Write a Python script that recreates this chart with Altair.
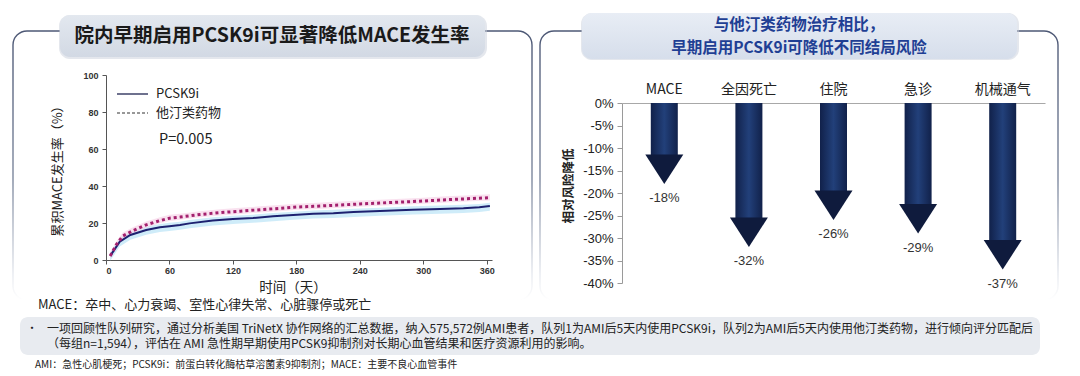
import altair as alt
import pandas as pd

CJK = "Noto Sans CJK SC"
LAT = "Liberation Sans"

# ---------------- data: left panel (cumulative MACE incidence) ----------------
days_pcsk9 = [4, 13, 23, 38, 51, 60, 70, 79, 101, 120, 139, 158, 177, 196, 215, 234, 259, 290, 316, 338, 353, 363]
rate_pcsk9 = [2.2, 9.9, 13.5, 16.2, 17.7, 18.3, 18.9, 19.8, 21.3, 22.1, 22.7, 23.6, 24.3, 25.0, 25.3, 25.9, 26.5, 27.2, 27.6, 28.0, 28.5, 29.2]
days_statin = [4, 10, 16, 26, 38, 51, 60, 70, 89, 108, 127, 146, 164, 180, 196, 227, 240, 259, 290, 300, 322, 345, 363]
rate_statin = [2.2, 8.5, 13.0, 16.0, 19.0, 21.3, 22.6, 23.2, 24.6, 25.6, 26.4, 27.2, 27.9, 28.6, 29.0, 29.9, 30.3, 30.8, 31.6, 31.9, 32.6, 33.2, 33.7]
series_names = ["PCSK9i", "他汀类药物"]
x_ticks_left = [0, 60, 120, 180, 240, 300, 360]
y_ticks_left = [0, 20, 40, 60, 80, 100]

# ---------------- data: right panel (relative risk reduction) ----------------
outcomes = ["MACE", "全因死亡", "住院", "急诊", "机械通气"]
reduction = [-18, -32, -26, -29, -37]
y_ticks_right = [0, -5, -10, -15, -20, -25, -30, -35, -40]

# ---------------- texts ----------------
title_left = "院内早期启用PCSK9i可显著降低MACE发生率"
title_right_1 = "与他汀类药物治疗相比，"
title_right_2 = "早期启用PCSK9i可降低不同结局风险"
x_title_left = "时间（天）"
y_title_left = "累积MACE发生率（%）"
y_title_right = "相对风险降低"
p_text = "P=0.005"
note_mace = "MACE：卒中、心力衰竭、室性心律失常、心脏骤停或死亡"
note_line1 = "一项回顾性队列研究，通过分析美国 TriNetX 协作网络的汇总数据，纳入575,572例AMI患者，队列1为AMI后5天内使用PCSK9i，队列2为AMI后5天内使用他汀类药物，进行倾向评分匹配后"
note_line2 = "（每组n=1,594），评估在 AMI 急性期早期使用PCSK9抑制剂对长期心血管结果和医疗资源利用的影响。"
note_abbr = "AMI：急性心肌梗死；PCSK9i：前蛋白转化酶枯草溶菌素9抑制剂；MACE：主要不良心血管事件"

df_p = pd.DataFrame({"day": days_pcsk9, "rate": rate_pcsk9})
df_s = pd.DataFrame({"day": days_statin, "rate": rate_statin})
df_r = pd.DataFrame({"outcome": outcomes, "value": reduction})
one = pd.DataFrame({"k": [0]})


def vgrad(stops):
    return alt.Gradient(gradient="linear", x1=0, y1=0, x2=0, y2=1,
                        stops=[alt.GradientStop(offset=o, color=c) for o, c in stops])


def hgrad(stops):
    return alt.Gradient(gradient="linear", x1=0, y1=0, x2=1, y2=0,
                        stops=[alt.GradientStop(offset=o, color=c) for o, c in stops])


def box(x, x2, y, y2, **kw):
    return alt.Chart(one).mark_rect(**kw).encode(
        x=alt.value(x), x2=alt.value(x2), y=alt.value(y), y2=alt.value(y2))


def label(text, x, y, **kw):
    return alt.Chart(pd.DataFrame({"t": [text]})).mark_text(**kw).encode(
        x=alt.value(x), y=alt.value(y), text="t:N")


def hline(x, x2, y, **kw):
    return alt.Chart(one).mark_rule(**kw).encode(
        x=alt.value(x), x2=alt.value(x2), y=alt.value(y))


# ---------------- decorations ----------------
panel_stroke = vgrad([(0, "#4d5875"), (0.55, "#7d889e"), (0.9, "#e6e9ef"), (1, "#ffffff")])
panel_left = box(13, 532, 31, 300, cornerRadius=14, fill="#ffffff", fillOpacity=0,
                 stroke=panel_stroke, strokeWidth=1.4)
panel_right = box(540, 1058, 31, 300, cornerRadius=14, fill="#ffffff", fillOpacity=0,
                  stroke=panel_stroke, strokeWidth=1.4)
shadow_l = box(59, 487, 15, 59, cornerRadius=11, fill="#c9d0dc", opacity=0.5)
shadow_r = box(581, 1019, 13, 60, cornerRadius=11, fill="#c9d0dc", opacity=0.5)
tbox_left = box(60, 485, 15, 57, cornerRadius=10,
                fill=vgrad([(0, "#e3e8ef"), (1, "#d2d9e4")]))
tbox_right = box(582, 1017, 13, 59, cornerRadius=10,
                 fill=vgrad([(0, "#e8edf5"), (1, "#d6deeb")]))
t_left = label(title_left, 272, 36, font=CJK, fontSize=19.5, fontWeight="bold",
               color="#1a1a1a", align="center", baseline="middle")
t_right1 = label(title_right_1, 799, 25, font=CJK, fontSize=15.5, fontWeight="bold",
                 color="#1f3f94", align="center", baseline="middle")
t_right2 = label(title_right_2, 799, 48, font=CJK, fontSize=15.5, fontWeight="bold",
                 color="#1f3f94", align="center", baseline="middle")

# ---------------- left chart ----------------
xL = alt.Scale(domain=[0, 365], range=[106, 492], nice=False, zero=False)
yL = alt.Scale(domain=[0, 100], range=[260, 75], nice=False, zero=False)
axis_xL = alt.Axis(orient="bottom", offset=-116, values=x_ticks_left, title=None, grid=False,
                   domainColor="#555555", tickColor="#555555", tickSize=4, labelPadding=2,
                   labelFont=LAT, labelFontSize=9, labelFontWeight="bold", labelColor="#333333")
axis_yL = alt.Axis(orient="left", offset=-106, values=y_ticks_left, title=None, grid=False,
                   domainColor="#555555", tickColor="#555555", tickSize=4, labelPadding=4,
                   labelFont=LAT, labelFontSize=9, labelFontWeight="bold", labelColor="#333333")

band_p = alt.Chart(df_p).transform_calculate(
    lo="datum.rate - 2.6", hi="datum.rate + 1.8"
).mark_area(color="#bfe5f7", opacity=0.75).encode(
    x=alt.X("day:Q", scale=xL, axis=None), y=alt.Y("lo:Q", scale=yL, axis=None), y2="hi:Q")
band_s = alt.Chart(df_s).transform_calculate(
    lo="datum.rate - 1.5", hi="datum.rate + 1.8"
).mark_area(color="#f5cde4", opacity=0.6).encode(
    x=alt.X("day:Q", scale=xL, axis=None), y=alt.Y("lo:Q", scale=yL, axis=None), y2="hi:Q")
line_p = alt.Chart(df_p).mark_line(color="#1d2170", strokeWidth=2).encode(
    x=alt.X("day:Q", scale=xL, axis=axis_xL), y=alt.Y("rate:Q", scale=yL, axis=axis_yL))
line_s = alt.Chart(df_s).mark_line(color="#a3206d", strokeWidth=3, strokeDash=[3, 3]).encode(
    x=alt.X("day:Q", scale=xL, axis=None), y=alt.Y("rate:Q", scale=yL, axis=None))

leg_line1 = hline(117, 148, 94, color="#4a4e72", strokeWidth=1.6)
leg_line2 = hline(117, 148, 113, color="#333333", strokeWidth=1.2, strokeDash=[3, 2])
leg_t1 = label(series_names[0], 156, 94, font=CJK, fontSize=13, color="#222222",
               align="left", baseline="middle")
leg_t2 = label(series_names[1], 156, 113, font=CJK, fontSize=13, color="#222222",
               align="left", baseline="middle")
p_lab = label(p_text, 159, 140, font=CJK, fontSize=14.5, color="#222222",
              align="left", baseline="middle")
xt_left = label(x_title_left, 293, 288, font=CJK, fontSize=13.5, color="#222222",
                align="center", baseline="middle")
yt_left = label(y_title_left, 58, 168, font=CJK, fontSize=13, color="#222222",
                align="center", baseline="middle", angle=270)

# ---------------- right chart ----------------
xR = alt.Scale(domain=outcomes, range=[622, 1045], paddingInner=0, paddingOuter=0)
yR = alt.Scale(domain=[-40, 0], range=[283, 103], nice=False, zero=False)
axis_xR = alt.Axis(orient="top", offset=-103, title=None, ticks=False, grid=False,
                   domainColor="#a8a8a8", domainWidth=1.2, labelPadding=7, labelAngle=0,
                   labelFont=CJK, labelFontSize=14, labelColor="#222222")
axis_yR = alt.Axis(orient="left", offset=-622, values=y_ticks_right, title=None, grid=False,
                   domainColor="#9a9a9a", tickColor="#9a9a9a", tickSize=5, labelPadding=4,
                   labelExpr="datum.value + '%'",
                   labelFont=LAT, labelFontSize=13, labelColor="#222222")

shaft = alt.Chart(df_r).mark_bar(
    width=27, yOffset=-28,
    fill=hgrad([(0, "#11214a"), (0.5, "#22407a"), (1, "#11214a")])
).encode(
    x=alt.X("outcome:N", scale=xR, sort=outcomes, axis=axis_xR),
    y=alt.Y("value:Q", scale=yR, axis=axis_yR),
    y2=alt.datum(0))
head = alt.Chart(df_r).mark_point(
    shape="M-1,-1.55L1,-1.55L0,0Z", size=1444, filled=True, color="#0f1b3d",
    opacity=1, strokeWidth=0
).encode(
    x=alt.X("outcome:N", scale=xR, sort=outcomes, axis=None),
    y=alt.Y("value:Q", scale=yR, axis=None))
val_lab = alt.Chart(df_r).transform_calculate(
    lab="datum.value + '%'"
).mark_text(dy=14, font=LAT, fontSize=13, color="#333333", baseline="middle").encode(
    x=alt.X("outcome:N", scale=xR, sort=outcomes, axis=None),
    y=alt.Y("value:Q", scale=yR, axis=None),
    text="lab:N")
yt_right = label(y_title_right, 569, 186, font=CJK, fontSize=12.5, fontWeight="bold",
                 color="#222222", align="center", baseline="middle", angle=270)

# ---------------- footnotes ----------------
fn_mace = label(note_mace, 38, 305, font=CJK, fontSize=13, color="#222222",
                align="left", baseline="middle")
fn_box = box(20, 1040, 317, 355, cornerRadius=8, fill="#e8ebf0")
fn_bullet = label("•", 32, 329, font=CJK, fontSize=11, color="#222222",
                  align="center", baseline="middle")
fn_l1 = label(note_line1, 47, 329, font=CJK, fontSize=12, color="#222222",
              align="left", baseline="middle")
fn_l2 = label(note_line2, 47, 344, font=CJK, fontSize=12, color="#222222",
              align="left", baseline="middle")
fn_abbr = label(note_abbr, 35, 365, font=CJK, fontSize=10, color="#222222",
                align="left", baseline="middle")

chart = alt.layer(
    panel_left, panel_right, shadow_l, shadow_r, tbox_left, tbox_right,
    t_left, t_right1, t_right2,
    band_p, band_s, line_p, line_s,
    leg_line1, leg_line2, leg_t1, leg_t2, p_lab, xt_left, yt_left,
    shaft, head, val_lab, yt_right,
    fn_mace, fn_box, fn_bullet, fn_l1, fn_l2, fn_abbr,
).resolve_scale(
    x="independent", y="independent"
).resolve_axis(
    x="independent", y="independent"
).properties(
    width=1080, height=376, padding=0, background="#ffffff",
    autosize=alt.AutoSizeParams(type="none")
).configure_view(stroke=None)

chart.save("out.html", embed_options={"renderer": "svg", "actions": False})
